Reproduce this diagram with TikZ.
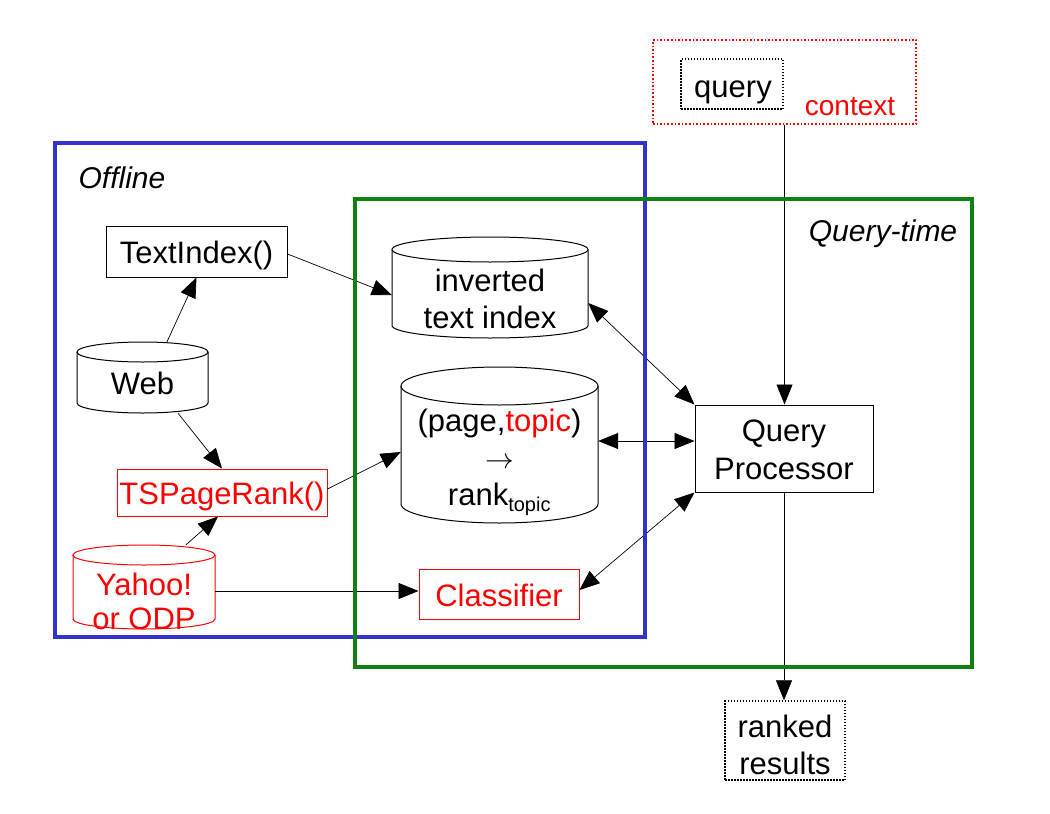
\documentclass[tikz,border=0pt]{standalone}
\usepackage{fontspec}
\usepackage{graphicx}
\setmainfont{Liberation Sans}
\usetikzlibrary{arrows.meta,calc}
\definecolor{offblue}{RGB}{51,51,204}
\definecolor{qgreen}{RGB}{16,128,16}
\definecolor{hired}{RGB}{255,0,0}
% drum outline: #1 colour, #2 x1, #3 y1, #4 x2, #5 y2, #6 cap half-height (all in pt)
\newcommand{\drumshape}[6]{%
  \draw[#1, line width=1pt]
    (#2,{#3+#6}) -- (#2,{#5-#6})
    arc[start angle=180, end angle=360, x radius={(#4-#2)*0.5pt}, y radius=#6pt]
    -- (#4,{#3+#6});
  \draw[#1, line width=1pt] ({(#2+#4)/2},{#3+#6}) ellipse[x radius={(#4-#2)*0.5pt}, y radius=#6pt];
}
\begin{document}
\begin{tikzpicture}[x=1pt, y=-1pt,
  every node/.style={font=\fontsize{31}{37}\selectfont, inner sep=0pt, align=center},
  box/.style={draw, line width=1pt},
  redbox/.style={draw=hired, line width=1pt, text=hired},
  slot/.style={inner sep=0pt},
  arr/.style={line width=0.7pt, -{Triangle[length=20pt, width=16pt]}},
  darr/.style={line width=0.7pt, {Triangle[length=20pt, width=16pt]}-{Triangle[length=20pt, width=16pt]}},
  frame/.style={line width=3.5pt},
  title/.style={font=\fontsize{30}{36}\selectfont\itshape}
]
\useasboundingbox (0,0) rectangle (1050,814);

% query with its context
\node[draw=hired, dotted, line width=1.6pt, minimum width=263pt, minimum height=84pt] (ctx) at (784.5,82) {};
\node[draw, dash pattern=on 1.5pt off 1.5pt, line width=1.6pt, minimum width=102pt, minimum height=50pt] (query) at (732,84) {};
\node (querytxt) at (733,92) {query};
\node[text=hired, font=\fontsize{28}{34}\selectfont] (context) at (850,107) {context};

% plain boxes
\node[box, minimum width=181pt, minimum height=51pt] (ti) at (196.5,251.5) {};
\node (titxt) at (196.5,255.5) {TextIndex()};
\node[redbox, minimum width=210pt, minimum height=47pt] (tsp) at (222,492.5) {};
\node[text=hired] (tsptxt) at (222,496) {TSPageRank()};
\node[redbox, minimum width=160pt, minimum height=50pt] (cls) at (499,594) {};
\node[text=hired] (clstxt) at (499,595) {Classifier};
\node[box, minimum width=178pt, minimum height=87pt] (qp) at (784,448.5) {};
\node (qptxt) at (784,450) {Query\\[1pt]Processor};
\node[draw, dash pattern=on 1.5pt off 1.5pt, line width=1.4pt, minimum width=120pt, minimum height=79pt] (rr) at (785,740.5) {};
\node (rrtxt) at (785,745) {ranked\\results};

% drums (stores)
\drumshape{black}{77}{342}{208}{413}{10}
\node[slot, minimum width=131pt, minimum height=71pt] (web) at (142.5,377.5) {};
\node (webtxt) at (142.5,383) {Web};

\drumshape{hired}{73}{545}{215}{629}{10}
\node[slot, minimum width=142pt, minimum height=84pt] (yahoo) at (144,587) {};
\node[text=hired, font=\fontsize{31}{34}\selectfont] (yahootxt) at (144,601) {Yahoo!\\or ODP};

\drumshape{black}{392}{237}{588}{338}{12.5}
\node[slot, minimum width=196pt, minimum height=101pt] (inv) at (490,287.5) {};
\node (invtxt) at (490,299) {inverted\\text index};

\drumshape{black}{401}{367}{598}{523}{19}
\node[slot, minimum width=197pt, minimum height=156pt] (pt) at (499.5,445) {};
\node (pttxt) at (499.5,462) {(page,\textcolor{hired}{topic})\\\scalebox{1.15}{$\rightarrow$}\\rank\textsubscript{\fontsize{20}{24}\selectfont topic}};

% connectors
\draw[arr] ($(web.north)+(24.5,0)$) -- (ti.south);
\draw[arr] ($(web.south)+(35.5,0)$) -- (tsp.north);
\draw[arr] ($(yahoo.north)+(42,0)$) -- ($(tsp.south)+(-4,0)$);
\draw[arr] ($(ti.east)+(0,2.5)$) -- ($(inv.west)+(0,7.5)$);
\draw[arr] ($(tsp.east)+(0,-3.5)$) -- ($(pt.west)+(0,7)$);
\draw[arr] ($(yahoo.east)+(0,4)$) -- ($(cls.west)+(0,-3)$);
\draw[darr] ($(inv.east)+(0,15.5)$) -- (qp.north west);
\draw[darr] ($(pt.east)+(0,-4)$) -- ($(qp.west)+(0,-7.5)$);
\draw[darr] ($(cls.east)+(0,-4)$) -- (qp.south west);
\draw[arr] (ctx.south) -- (ctx.south |- qp.north);
\draw[arr] (qp.south) -- (qp.south |- rr.north);

% regions
\draw[frame, offblue] (55,143) rectangle (645,637);
\draw[frame, qgreen] (355,199) rectangle (972,667);
\node[title] (offline) at (122,178) {Offline};
\node[title] (qtime) at (883,234) {Query-time};
\end{tikzpicture}
\end{document}
